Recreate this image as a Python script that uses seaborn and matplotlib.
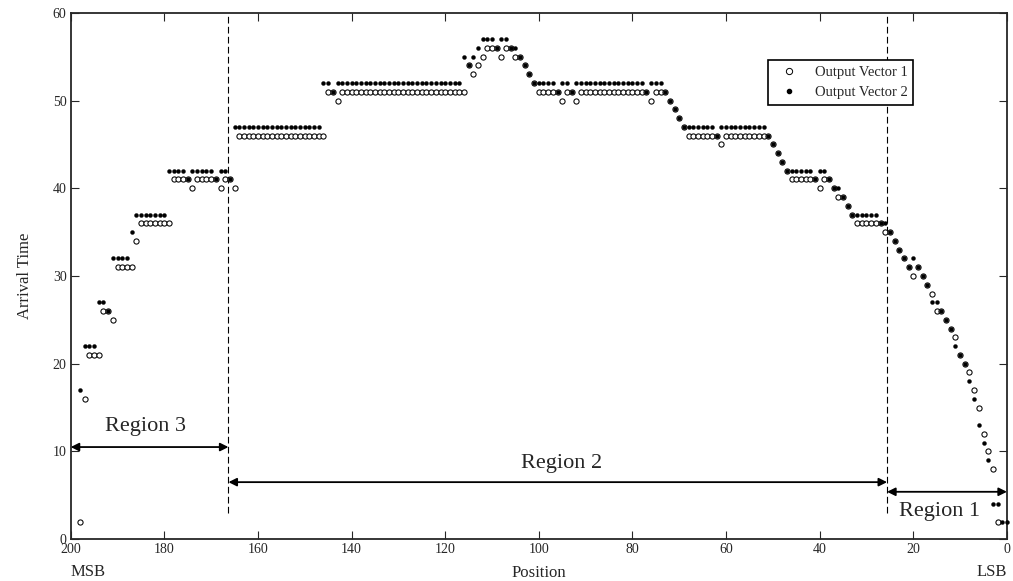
import numpy as np
import pandas as pd
import matplotlib
matplotlib.use("Agg")
import matplotlib.pyplot as plt
from matplotlib.lines import Line2D
import seaborn as sns


# ==========================================
# DATA (position 198 -> 0)
# ==========================================

positions = list(range(198, -1, -1))

output_vector_1 = [
    2, 16, 21, 21, 21, 26, 26, 25, 31, 31,          # 198-189
    31, 31, 34, 36, 36, 36, 36, 36, 36, 36,         # 188-179
    41, 41, 41, 41, 40, 41, 41, 41, 41, 41,         # 178-169
    40, 41, 41, 40, 46, 46, 46, 46, 46, 46,         # 168-159
    46, 46, 46, 46, 46, 46, 46, 46, 46, 46,         # 158-149
    46, 46, 46, 51, 51, 50, 51, 51, 51, 51,         # 148-139
    51, 51, 51, 51, 51, 51, 51, 51, 51, 51,         # 138-129
    51, 51, 51, 51, 51, 51, 51, 51, 51, 51,         # 128-119
    51, 51, 51, 54, 53, 54, 55, 56, 56, 56,         # 118-109
    55, 56, 56, 55, 55, 54, 53, 52, 51, 51,         # 108-99
    51, 51, 51, 50, 51, 51, 50, 51, 51, 51,         # 98-89
    51, 51, 51, 51, 51, 51, 51, 51, 51, 51,         # 88-79
    51, 51, 50, 51, 51, 51, 50, 49, 48, 47,         # 78-69
    46, 46, 46, 46, 46, 46, 46, 45, 46, 46,         # 68-59
    46, 46, 46, 46, 46, 46, 46, 46, 45, 44,         # 58-49
    43, 42, 41, 41, 41, 41, 41, 41, 40, 41,         # 48-39
    41, 40, 39, 39, 38, 37, 36, 36, 36, 36,         # 38-29
    36, 36, 35, 35, 34, 33, 32, 31, 30, 31,         # 28-19
    30, 29, 28, 26, 26, 25, 24, 23, 21, 20,         # 18-9
    19, 17, 15, 12, 10, 8, 2, np.nan, np.nan,       # 8-0
]

output_vector_2 = [
    17, 22, 22, 22, 27, 27, 26, 32, 32, 32,         # 198-189
    32, 35, 37, 37, 37, 37, 37, 37, 37, 42,         # 188-179
    42, 42, 42, 41, 42, 42, 42, 42, 42, 41,         # 178-169
    42, 42, 41, 47, 47, 47, 47, 47, 47, 47,         # 168-159
    47, 47, 47, 47, 47, 47, 47, 47, 47, 47,         # 158-149
    47, 47, 52, 52, 51, 52, 52, 52, 52, 52,         # 148-139
    52, 52, 52, 52, 52, 52, 52, 52, 52, 52,         # 138-129
    52, 52, 52, 52, 52, 52, 52, 52, 52, 52,         # 128-119
    52, 52, 55, 54, 55, 56, 57, 57, 57, 56,         # 118-109
    57, 57, 56, 56, 55, 54, 53, 52, 52, 52,         # 108-99
    52, 52, 51, 52, 52, 51, 52, 52, 52, 52,         # 98-89
    52, 52, 52, 52, 52, 52, 52, 52, 52, 52,         # 88-79
    52, 51, 52, 52, 52, 51, 50, 49, 48, 47,         # 78-69
    47, 47, 47, 47, 47, 47, 46, 47, 47, 47,         # 68-59
    47, 47, 47, 47, 47, 47, 47, 46, 45, 44,         # 58-49
    43, 42, 42, 42, 42, 42, 42, 41, 42, 42,         # 48-39
    41, 40, 40, 39, 38, 37, 37, 37, 37, 37,         # 38-29
    37, 36, 36, 35, 34, 33, 32, 31, 32, 31,         # 28-19
    30, 29, 27, 27, 26, 25, 24, 22, 21, 20,         # 18-9
    18, 16, 13, 11, 9, 4, 4, 2, 2,                  # 8-0
]

# region boundaries (positions) and labels
region_bounds = [200, 166.3, 25.6, 0]
region_labels = ["Region 3", "Region 2", "Region 1"]

x_ticks = [200, 180, 160, 140, 120, 100, 80, 60, 40, 20, 0]
y_ticks = [0, 10, 20, 30, 40, 50, 60]


# ==========================================
# STYLE
# ==========================================

sns.set_style("ticks")

plt.rcParams["font.family"] = ["Liberation Serif", "DejaVu Serif"]

df = pd.DataFrame({
    "Position": positions,
    "v1": output_vector_1,
    "v2": output_vector_2,
})


# ==========================================
# ARRIVAL TIME SCATTER
# ==========================================

fig, ax = plt.subplots(figsize=(10.13, 5.81), dpi=100)

fig.subplots_adjust(left=0.0698, right=0.994, top=0.978, bottom=0.072)

sns.scatterplot(
    data=df,
    x="Position",
    y="v1",
    marker="o",
    s=14,
    color="white",
    edgecolor="black",
    linewidth=0.75,
    clip_on=False,
    zorder=3,
    ax=ax,
)

sns.scatterplot(
    data=df,
    x="Position",
    y="v2",
    marker="o",
    s=8,
    color="black",
    edgecolor="black",
    linewidth=0.3,
    clip_on=False,
    zorder=4,
    ax=ax,
)

ax.set_xlim(200, 0)
ax.set_ylim(0, 60)

ax.set_xticks(x_ticks)
ax.set_yticks(y_ticks)

ax.tick_params(
    direction="in",
    length=6,
    width=0.8,
    labelsize=10,
    pad=3,
    top=True,
    right=True,
)

for spine in ax.spines.values():
    spine.set_linewidth(1.3)

ax.set_xlabel("Position", fontsize=12, labelpad=6)
ax.set_ylabel("Arrival Time", fontsize=12, labelpad=14)

ax.text(0.0, -0.063, "MSB", transform=ax.transAxes,
        ha="left", va="center", fontsize=12)
ax.text(1.0, -0.063, "LSB", transform=ax.transAxes,
        ha="right", va="center", fontsize=12)

# region boundaries
for bound in region_bounds[1:3]:
    ax.plot(
        [bound, bound], [3, 60],
        color="black",
        linewidth=0.8,
        linestyle=(0, (6, 3)),
        zorder=2,
    )

# region arrows and labels
arrow_y = [10.5, 6.5, 5.4]
text_xy = [(184.1, 12.8), (95.2, 8.6), (14.3, 3.2)]

for i, label in enumerate(region_labels):

    ax.annotate(
        "",
        xy=(region_bounds[i], arrow_y[i]),
        xytext=(region_bounds[i + 1], arrow_y[i]),
        arrowprops=dict(
            arrowstyle="<|-|>",
            color="black",
            lw=1.3,
            mutation_scale=12,
            shrinkA=0,
            shrinkB=0,
        ),
        annotation_clip=False,
    )

    ax.text(
        text_xy[i][0], text_xy[i][1], label,
        ha="center", va="center", fontsize=16,
    )

handles = [
    Line2D([], [], marker="o", linestyle="none",
           markerfacecolor="white", markeredgecolor="black",
           markersize=4.5, markeredgewidth=0.7),
    Line2D([], [], marker="o", linestyle="none",
           markerfacecolor="black", markeredgecolor="black",
           markersize=3),
]

leg = ax.legend(
    handles,
    ["Output Vector 1", "Output Vector 2"],
    loc="upper right",
    bbox_to_anchor=(0.908, 0.924),
    fontsize=10.5,
    frameon=True,
    fancybox=False,
    framealpha=1,
    edgecolor="black",
    borderpad=0.4,
    labelspacing=0.45,
    handlelength=2.0,
    handletextpad=0.8,
)
leg.get_frame().set_linewidth(1.2)
leg.set_zorder(5)

plt.savefig("out.png", dpi=100)
